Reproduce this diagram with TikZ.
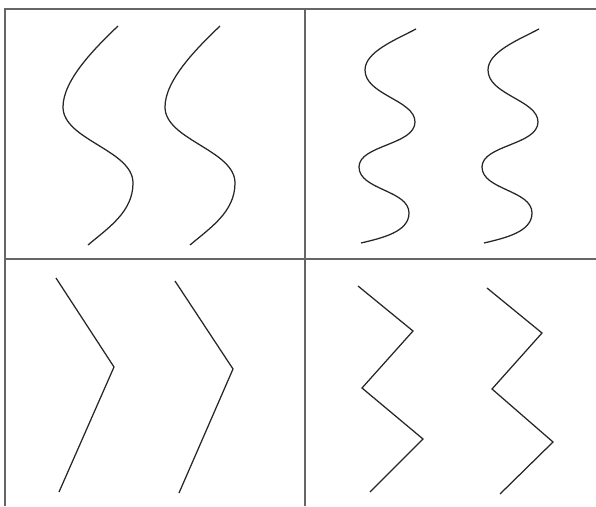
\documentclass[tikz,border=0pt]{standalone}
\begin{document}
\begin{tikzpicture}[x=1pt,y=-1pt,
  frame/.style={draw=black!60,line width=1.2pt},
  curve/.style={draw=black!85,line width=1.25pt,line join=miter}]
\useasboundingbox (0,0) rectangle (596,506);
\fill[white] (0,0) rectangle (596,506);
% frame
\draw[frame] (596,9) -- (5,9) -- (5,506);
\draw[frame] (305,9) -- (305,506);
\draw[frame] (5,259) -- (596,259);
% top-left S curves
\foreach \dx in {0,102}{
\begin{scope}[xshift=\dx pt]
\draw[curve] (118,26) .. controls (95,48) and (63,80) .. (63,107)
  .. controls (63,140) and (133,150) .. (133,183)
  .. controls (133,212) and (108,228) .. (88,245);
\end{scope}}
% top-right waves
\foreach \dx in {0,123}{
\begin{scope}[xshift=\dx pt]
\draw[curve] (416,29) .. controls (395,40) and (365,52) .. (365,70)
  .. controls (365,95) and (415,100) .. (415,122)
  .. controls (415,145) and (359,145) .. (359,167)
  .. controls (359,190) and (409,190) .. (409,213)
  .. controls (409,232) and (382,238) .. (361,243);
\end{scope}}
% bottom-left chevrons
\draw[curve] (56,278) -- (114,367) -- (59,492);
\draw[curve] (175,281) -- (233,369) -- (179,493);
% bottom-right zigzags
\draw[curve] (358,286) -- (413,331) -- (362,388) -- (423,439) -- (370,492);
\draw[curve] (487,288) -- (542,333) -- (492,389) -- (553,442) -- (500,494);
\end{tikzpicture}
\end{document}
